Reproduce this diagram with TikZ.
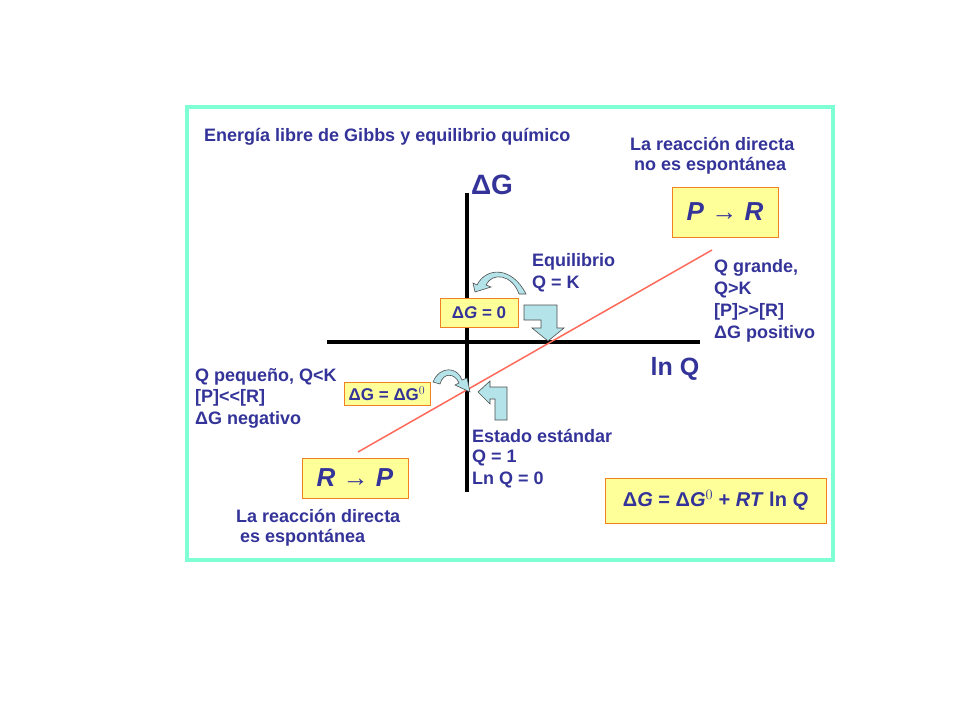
\documentclass[tikz,border=0pt]{standalone}
\usepackage{fontspec}
\setmainfont{Liberation Sans}
\usetikzlibrary{arrows.meta}
\definecolor{txt}{HTML}{333399}
\definecolor{frame}{HTML}{7FFFD4}
\definecolor{boxfill}{HTML}{FFFF99}
\definecolor{boxline}{HTML}{F08020}
\definecolor{arr}{HTML}{B4E4EA}
\definecolor{redl}{HTML}{FF6A5A}
\tikzset{
 lbl/.style={anchor=west,text=txt,font=\bfseries\fontsize{18}{20}\selectfont,inner sep=0pt},
 ybox/.style={draw=boxline,fill=boxfill,line width=1pt,text=txt,font=\bfseries,inner sep=0pt},
 fat/.style={draw=black!70,fill=arr,line width=0.6pt},
}
\begin{document}
\begin{tikzpicture}[x=1pt,y=-1pt]
\useasboundingbox (0,0) rectangle (960,720);
\draw[frame,line width=3.5pt] (187,107) rectangle (833,560);
\draw[line width=4.5pt] (467,193) -- (467,492);
\draw[line width=4.5pt] (327,342) -- (700,342);
\coordinate (r1) at (358,452); \coordinate (r2) at (712,250);
\draw[redl,line width=1.5pt] (r1) -- (r2);
\node[text=txt,font=\bfseries\fontsize{28}{30}\selectfont] (dg) at (492,185) {ΔG};
\node[text=txt,font=\bfseries\fontsize{25}{27}\selectfont] (lnq) at (675,369) {ln Q};
\node[lbl] (t) at (204,137) {Energía libre de Gibbs y equilibrio químico};
\node[lbl] (a1) at (630,144) {La reacción directa};
\node[lbl] (a2) at (634,166) {no es espontánea};
\node[ybox,minimum width=106pt,minimum height=50pt,font=\bfseries\itshape\fontsize{26}{28}\selectfont] (pr) at (725,212) {P → R};
\node[ybox,minimum width=106pt,minimum height=40pt,font=\bfseries\itshape\fontsize{26}{28}\selectfont] (rp) at (355,478) {R → P};
\node[ybox,minimum width=78pt,minimum height=29pt,font=\bfseries\fontsize{17}{19}\selectfont] (g0) at (479,312.5) {Δ\textit{G} = 0};
\node[ybox,minimum width=86pt,minimum height=23pt,font=\bfseries\fontsize{17}{19}\selectfont] (gg) at (387,393.5) {ΔG = ΔG$^{0}$};
\node[ybox,minimum width=221pt,minimum height=45pt,font=\bfseries\fontsize{20}{22}\selectfont] (eq) at (715.5,500.5) {Δ\textit{G} = Δ\textit{G}$^{0}$ + \textit{RT} ln \textit{Q}};
\node[lbl] (e1) at (532,262) {Equilibrio};
\node[lbl] (e2) at (532,284) {Q = K};
\node[lbl] (q1) at (714,268) {Q grande,};
\node[lbl] (q2) at (714,290) {Q>K};
\node[lbl] (q3) at (714,312) {[P]>{}>[R]};
\node[lbl] (q4) at (714,334) {ΔG positivo};
\node[lbl] (p1) at (195,377) {Q pequeño, Q<K};
\node[lbl] (p2) at (195,398) {[P]<{}<[R]};
\node[lbl] (p3) at (195,420) {ΔG negativo};
\node[lbl] (s1) at (472,436) {Estado estándar};
\node[lbl] (s2) at (472,458) {Q = 1};
\node[lbl] (s3) at (472,480) {Ln Q = 0};
\node[lbl] (b1) at (236,516) {La reacción directa};
\node[lbl] (b2) at (240,538) {es espontánea};
% L-shaped arrows
\draw[fat] (524,305) -- (557,305) -- (557,328) -- (564,328) -- (548,341) -- (532,328) -- (541,328) -- (541,320) -- (524,320) -- cycle;
\draw[fat] (507,420) -- (495,420) -- (495,399) -- (490,399) -- (490,404) -- (478,392) -- (490,381) -- (490,387) -- (507,387) -- cycle;
% curved arrows
\draw[fat] (519,294) .. controls (512,274) and (492,272) .. (486,285) -- (491,287) -- (475,292) -- (473,283) -- (477,285) .. controls (486,267) and (512,266) .. (526,294) -- cycle;
\draw[fat] (433,382) .. controls (440,365) and (458,367) .. (462,380) -- (467,378) -- (470,392) -- (455,385) -- (459,383) .. controls (455,373) and (443,372) .. (440,384) -- cycle;
\end{tikzpicture}
\end{document}
